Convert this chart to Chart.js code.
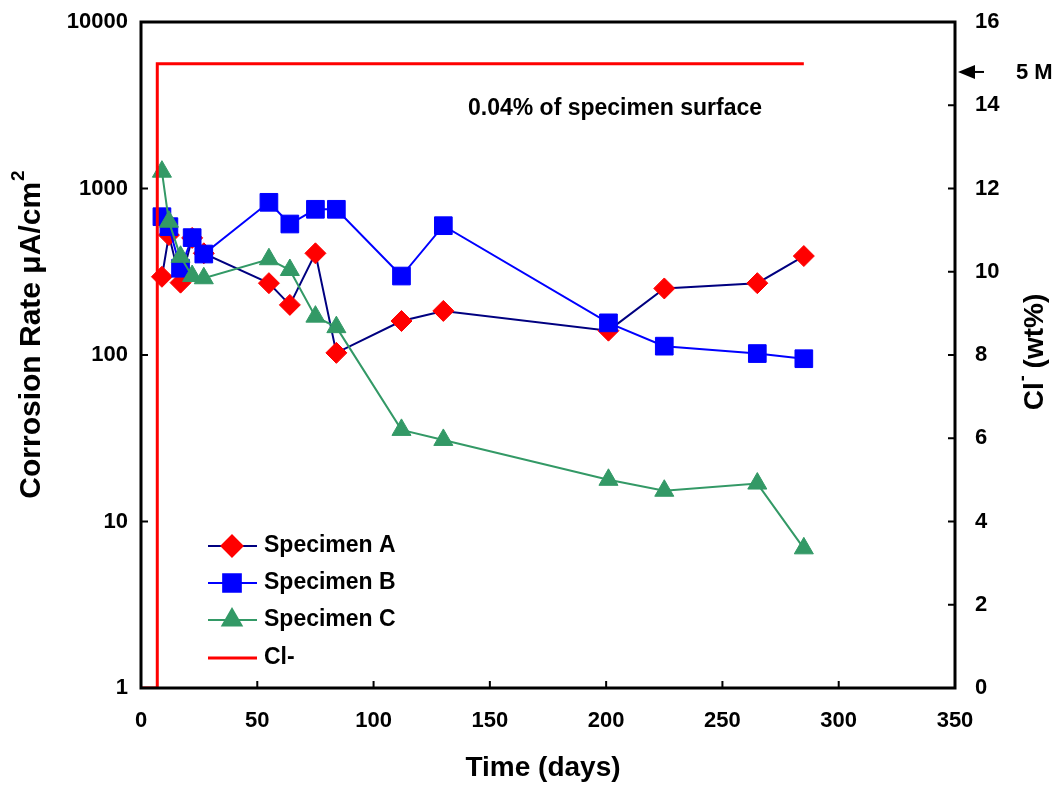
<!DOCTYPE html>
<html>
<head>
<meta charset="utf-8">
<script src="https://cdn.jsdelivr.net/npm/chart.js"></script>
<style>
  html, body { margin: 0; padding: 0; background: #fff; }
  #wrap { width: 1062px; height: 788px; }
</style>
</head>
<body>
<div id="wrap"><canvas id="corrosionChart" width="1062" height="788"></canvas></div>
<script>
// Data
const days = [9, 12, 17, 22, 27, 55, 64, 75, 84, 112, 130, 201, 225, 265, 285];
const specimenA = [295, 525, 272, 505, 408, 270, 200, 408, 103, 160, 184, 140, 251, 270, 393];
const specimenB = [677, 590, 332, 507, 404, 826, 612, 750, 750, 298, 598, 156, 113, 102, 95];
const specimenC = [1262, 632, 389, 298, 289, 376, 324, 170, 147, 35.5, 30.9, 17.8, 15.3, 16.9, 6.9];
const chlorideDays = [0, 7, 7, 285];
const chlorideWt = [0, 0, 15, 15];
const rateTicks = [1, 10, 100, 1000, 10000];
const saturationLevel = 14.8;
const saturationLabel = '5 M';
const noteText = '0.04% of specimen surface';

const FONT = "'Liberation Sans', Arial, sans-serif";

function toPoints(xs, ys) {
    return xs.map((x, i) => ({ x: x, y: ys[i] }));
}

// Draw frame, inside ticks, titles, legend and notes
const decorPlugin = {
    id: 'decor',
    afterDraw(chart) {
        const ctx = chart.ctx;
        const a = chart.chartArea;
        const sx = chart.scales.x, sy = chart.scales.y, sy2 = chart.scales.y2;
        ctx.save();

        // frame
        ctx.strokeStyle = '#000';
        ctx.lineWidth = 3;
        ctx.strokeRect(a.left, a.top, a.right - a.left, a.bottom - a.top);

        // inside tick marks
        ctx.lineWidth = 2;
        ctx.beginPath();
        sx.ticks.forEach(t => {
            const px = sx.getPixelForValue(t.value);
            ctx.moveTo(px, a.bottom); ctx.lineTo(px, a.bottom - 7);
        });
        rateTicks.forEach(v => {
            const py = sy.getPixelForValue(v);
            ctx.moveTo(a.left, py); ctx.lineTo(a.left + 7, py);
        });
        sy2.ticks.forEach(t => {
            const py = sy2.getPixelForValue(t.value);
            ctx.moveTo(a.right, py); ctx.lineTo(a.right - 7, py);
        });
        ctx.stroke();

        ctx.fillStyle = '#000';

        // x title
        ctx.font = 'bold 28px ' + FONT;
        ctx.textAlign = 'center';
        ctx.textBaseline = 'middle';
        ctx.fillText('Time (days)', (a.left + a.right) / 2 - 5, 768);

        // left title (rotated)
        ctx.save();
        ctx.translate(32, 335);
        ctx.rotate(-Math.PI / 2);
        const main = 'Corrosion Rate \u03bcA/cm';
        ctx.font = 'bold 30px ' + FONT;
        const w1 = ctx.measureText(main).width;
        ctx.font = 'bold 19px ' + FONT;
        const w2 = ctx.measureText('2').width;
        const start = -(w1 + w2) / 2;
        ctx.textAlign = 'left';
        ctx.font = 'bold 30px ' + FONT;
        ctx.fillText(main, start, 0);
        ctx.font = 'bold 19px ' + FONT;
        ctx.fillText('2', start + w1 + 1, -13);
        ctx.restore();

        // right title (rotated)
        ctx.save();
        ctx.translate(1035, 352);
        ctx.rotate(-Math.PI / 2);
        ctx.font = 'bold 28px ' + FONT;
        const r1 = ctx.measureText('Cl').width;
        const r3 = ctx.measureText(' (wt%)').width;
        ctx.font = 'bold 18px ' + FONT;
        const r2 = ctx.measureText('-').width;
        const rs = -(r1 + r2 + r3) / 2;
        ctx.textAlign = 'left';
        ctx.font = 'bold 28px ' + FONT;
        ctx.fillText('Cl', rs, 0);
        ctx.fillText(' (wt%)', rs + r1 + r2, 0);
        ctx.font = 'bold 18px ' + FONT;
        ctx.fillText('-', rs + r1 + 1, -12);
        ctx.restore();

        // note
        ctx.font = 'bold 23px ' + FONT;
        ctx.textAlign = 'center';
        ctx.textBaseline = 'middle';
        ctx.fillText(noteText, 615, 109);

        // 5 M arrow
        const ay = sy2.getPixelForValue(saturationLevel);
        ctx.beginPath();
        ctx.moveTo(958, ay);
        ctx.lineTo(975, ay - 7);
        ctx.lineTo(975, ay + 7);
        ctx.closePath();
        ctx.fill();
        ctx.lineWidth = 2;
        ctx.beginPath();
        ctx.moveTo(970, ay); ctx.lineTo(984, ay);
        ctx.stroke();
        ctx.font = 'bold 22px ' + FONT;
        ctx.textAlign = 'left';
        ctx.fillText(saturationLabel, 1016, ay + 1);

        // legend
        const rows = [546, 583, 620, 658];
        const entries = [chart.data.datasets[3], chart.data.datasets[2], chart.data.datasets[1], chart.data.datasets[0]];
        entries.forEach((ds, i) => {
            const y = rows[i];
            ctx.strokeStyle = ds.borderColor;
            ctx.lineWidth = ds.borderWidth;
            ctx.beginPath();
            ctx.moveTo(208, y); ctx.lineTo(257, y);
            ctx.stroke();
            if (ds.pointRadius > 0) {
                ctx.fillStyle = ds.pointBackgroundColor;
                ctx.strokeStyle = ds.pointBorderColor;
                Chart.helpers.drawPoint(ctx, {
                    pointStyle: ds.pointStyle,
                    radius: ds.pointRadius,
                    rotation: 0,
                    borderWidth: 1
                }, 232, y);
            }
            ctx.fillStyle = '#000';
            ctx.font = 'bold 23px ' + FONT;
            ctx.textAlign = 'left';
            ctx.textBaseline = 'middle';
            ctx.fillText(ds.label, 264, y);
        });

        ctx.restore();
    }
};

const ctx = document.getElementById('corrosionChart');
new Chart(ctx, {
    type: 'scatter',
    data: {
        datasets: [{
            label: 'Cl-',
            data: toPoints(chlorideDays, chlorideWt),
            yAxisID: 'y2',
            showLine: true,
            borderColor: '#ff0000',
            borderWidth: 3,
            pointRadius: 0,
            order: 0
        }, {
            label: 'Specimen C',
            data: toPoints(days, specimenC),
            yAxisID: 'y',
            showLine: true,
            borderColor: '#339966',
            borderWidth: 2,
            pointStyle: 'triangle',
            pointRadius: 11,
            pointBackgroundColor: '#339966',
            pointBorderColor: '#339966',
            pointBorderWidth: 1,
            order: 1
        }, {
            label: 'Specimen B',
            data: toPoints(days, specimenB),
            yAxisID: 'y',
            showLine: true,
            borderColor: '#0000ff',
            borderWidth: 2,
            pointStyle: 'rect',
            pointRadius: 12.5,
            pointBackgroundColor: '#0000ff',
            pointBorderColor: '#0000ff',
            pointBorderWidth: 1,
            order: 2
        }, {
            label: 'Specimen A',
            data: toPoints(days, specimenA),
            yAxisID: 'y',
            showLine: true,
            borderColor: '#000080',
            borderWidth: 2,
            pointStyle: 'rectRot',
            pointRadius: 10.5,
            pointBackgroundColor: '#ff0000',
            pointBorderColor: '#ff0000',
            pointBorderWidth: 1,
            order: 3
        }]
    },
    options: {
        responsive: false,
        animation: false,
        layout: { padding: { top: 22, left: 0, right: 0, bottom: 0 } },
        plugins: {
            legend: { display: false },
            tooltip: { enabled: false }
        },
        scales: {
            x: {
                type: 'linear',
                min: 0,
                max: 350,
                ticks: {
                    stepSize: 50,
                    color: '#000',
                    padding: 20,
                    maxRotation: 0,
                    font: { family: FONT, size: 22, weight: 'bold' }
                },
                grid: { drawOnChartArea: false, drawTicks: false },
                border: { display: false },
                afterFit: s => { s.height = 100; }
            },
            y: {
                type: 'logarithmic',
                position: 'left',
                min: 1,
                max: 10000,
                afterBuildTicks: s => { s.ticks = rateTicks.map(v => ({ value: v })); },
                ticks: {
                    color: '#000',
                    padding: 8,
                    font: { family: FONT, size: 22, weight: 'bold' },
                    callback: v => String(v)
                },
                grid: { drawOnChartArea: false, drawTicks: true, tickLength: 5, tickColor: 'rgba(0,0,0,0)' },
                border: { display: false },
                afterFit: s => { s.width = 141; }
            },
            y2: {
                type: 'linear',
                position: 'right',
                min: 0,
                max: 16,
                ticks: {
                    stepSize: 2,
                    color: '#000',
                    padding: 8,
                    font: { family: FONT, size: 22, weight: 'bold' }
                },
                grid: { drawOnChartArea: false, drawTicks: true, tickLength: 12, tickColor: 'rgba(0,0,0,0)' },
                border: { display: false },
                afterFit: s => { s.width = 107; }
            }
        }
    },
    plugins: [decorPlugin]
});
</script>
</body>
</html>
